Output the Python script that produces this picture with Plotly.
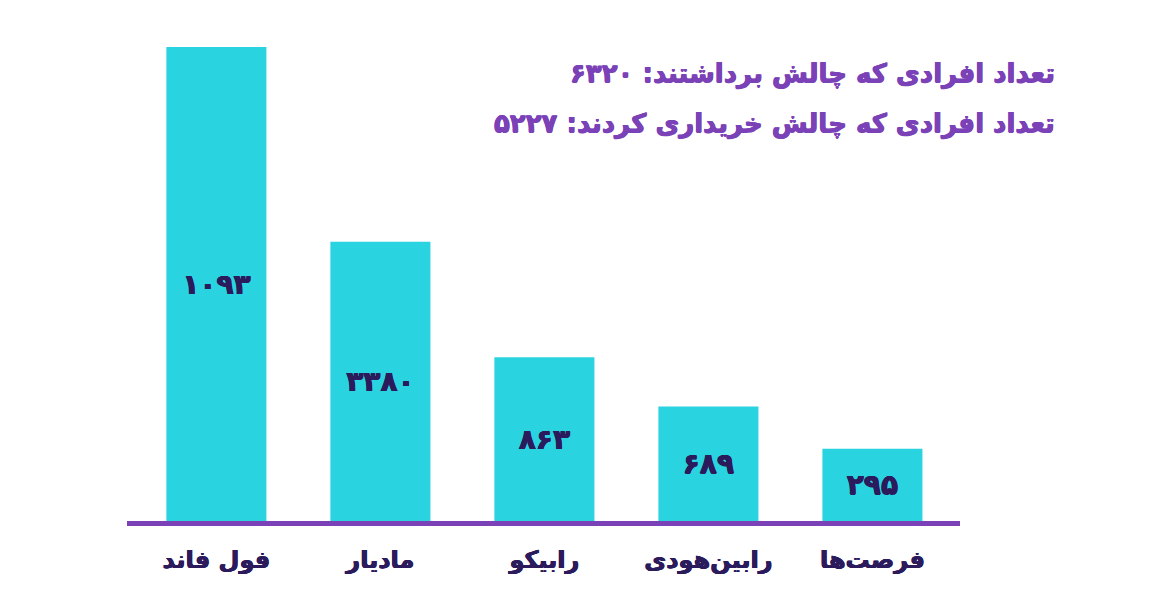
import plotly.graph_objects as go

categories = ["فول فاند", "مادیار", "رابیکو", "رابین‌هودی", "فرصت‌ها"]
bar_heights = [472, 278, 163, 114, 72]
bar_labels = ["۱۰۹۳", "۳۳۸۰", "۸۶۳", "۶۸۹", "۲۹۵"]
summary_lines = [
    "تعداد افرادی که چالش برداشتند: ۶۳۲۰",
    "تعداد افرادی که چالش خریداری کردند: ۵۲۲۷",
]

FONT = "DejaVu Sans"
BAR_COLOR = "#29d4e0"
DARK = "#2b1a5c"
PURPLE = "#7b42b8"

# page body has an 8px default margin; compensate so the drawing lands in place
OFF = 8
W, H = 1164, 615
L, R, T, B = 127 - OFF, 204 + OFF, 47 - OFF, 94 + OFF


def thick(color, d=0.5):
    return f"{d}px 0 0 {color}, -{d}px 0 0 {color}, 0 {d}px 0 {color}"


fig = go.Figure()
fig.add_trace(go.Bar(
    x=categories,
    y=bar_heights,
    text=bar_labels,
    textposition="inside",
    insidetextanchor="middle",
    textangle=0,
    textfont=dict(family=FONT, size=28, color=DARK, weight="bold", shadow=thick(DARK)),
    marker=dict(color=BAR_COLOR, line=dict(width=0)),
    width=0.61,
    hoverinfo="skip",
))

fig.update_layout(
    width=W, height=H,
    margin=dict(l=L, r=R, t=T, b=B),
    paper_bgcolor="white", plot_bgcolor="white",
    showlegend=False,
    xaxis=dict(
        type="category",
        range=[-0.545, 4.534],
        showline=True, linecolor=PURPLE, linewidth=5,
        showgrid=False, zeroline=False,
        ticks="outside", ticklen=13, tickcolor="rgba(0,0,0,0)",
        tickfont=dict(family=FONT, size=24, color=DARK, weight="bold", shadow=thick(DARK)),
        fixedrange=True,
    ),
    yaxis=dict(
        range=[0, 472], visible=False, showgrid=False, zeroline=False,
        fixedrange=True,
    ),
)

pw = W - L - R
ph = H - T - B
for i, line in enumerate(summary_lines):
    fig.add_annotation(
        text=line, xref="paper", yref="paper",
        x=(1057 - OFF - L) / pw, y=1 + (T - (73 - OFF + 50 * i)) / ph,
        xanchor="right", yanchor="middle", showarrow=False,
        font=dict(family=FONT, size=26, color=PURPLE, weight="bold", shadow=thick(PURPLE)),
    )

fig.write_html("out.html")
